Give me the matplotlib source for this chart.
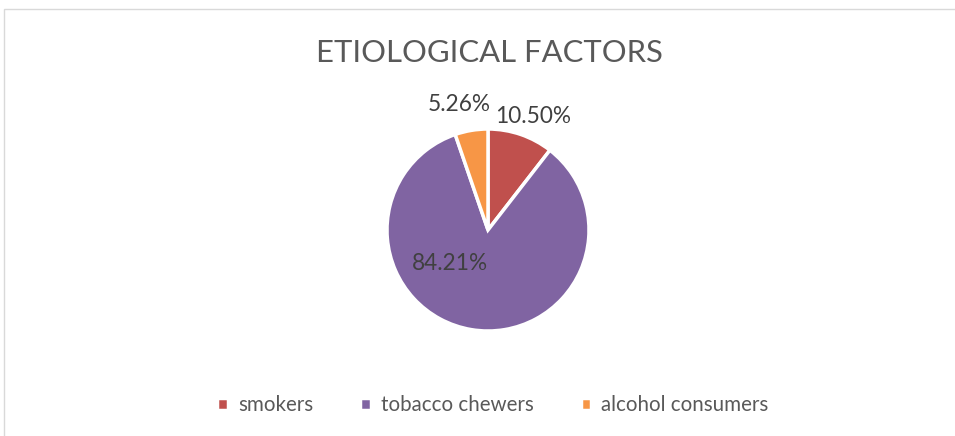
import numpy as np
import matplotlib.pyplot as plt
from matplotlib.patches import Rectangle

plt.rcParams['font.family'] = ['Lato', 'DejaVu Sans']

# datos del grafico
categorias = ['smokers', 'tobacco chewers', 'alcohol consumers']
valores = [10.50, 84.21, 5.26]
etiquetas = ['10.50%', '84.21%', '5.26%']
colores = ['#C0504D', '#8064A2', '#F79646']
# posicion de las etiquetas (radio relativo, angulo en grados)
pos_etiquetas = [(1.21, 68.5), (0.50, 221.0), (1.28, 103.0)]

fig = plt.figure(figsize=(9.55, 4.36), dpi=100)

# borde del area del grafico
fig.patches.append(Rectangle((4 / 955, -0.1), 1.1, (436 - 9) / 436 + 0.1,
                             transform=fig.transFigure, fill=False,
                             edgecolor='#D9D9D9', linewidth=1))

radio = 101
cx, cy = 488, 436 - 230
ax = fig.add_axes([(cx - radio) / 955, (cy - radio) / 436, 2 * radio / 955, 2 * radio / 436])

wedges, _ = ax.pie(valores, colors=colores, startangle=90, counterclock=False,
                   radius=1.0, wedgeprops=dict(edgecolor='white', linewidth=2.5))
ax.set_xlim(-1, 1)
ax.set_ylim(-1, 1)
ax.set_aspect('equal')
ax.axis('off')

for texto, (r, ang) in zip(etiquetas, pos_etiquetas):
    a = np.deg2rad(ang)
    ax.text(r * np.cos(a), r * np.sin(a), texto, ha='center', va='center',
            fontsize=16.3, color='#404040')

fig.text(489 / 955, 1 - 53 / 436, 'ETIOLOGICAL FACTORS', ha='center', va='center',
         fontsize=22.3, color='#595959')

fig.legend(wedges, categorias, loc='center', bbox_to_anchor=(493 / 955, 1 - 405 / 436),
           ncol=3, frameon=False, fontsize=14.8, labelcolor='#595959',
           handlelength=0.5, handleheight=0.5, handletextpad=0.5, columnspacing=2.3)

plt.savefig('out.png', dpi=100)
